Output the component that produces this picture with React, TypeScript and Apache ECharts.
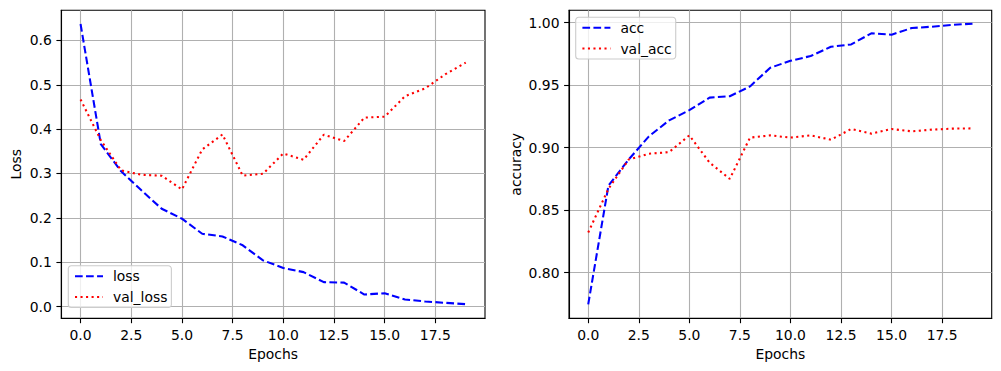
import React, { useEffect, useRef } from "react";
import * as echarts from "echarts";

const epochs = [0, 1, 2, 3, 4, 5, 6, 7, 8, 9, 10, 11, 12, 13, 14, 15, 16, 17, 18, 19];
const loss = [0.637, 0.366, 0.305, 0.262, 0.2205, 0.198, 0.164, 0.158, 0.138, 0.104, 0.087, 0.0775, 0.055, 0.0538, 0.027, 0.030, 0.0158, 0.0113, 0.0083, 0.0053];
const valLoss = [0.467, 0.375, 0.307, 0.297, 0.295, 0.264, 0.354, 0.388, 0.295, 0.2995, 0.345, 0.331, 0.3875, 0.373, 0.426, 0.428, 0.474, 0.492, 0.524, 0.550];
const acc = [0.7746, 0.8696, 0.8905, 0.909, 0.9218, 0.930, 0.940, 0.9411, 0.949, 0.9639, 0.9695, 0.9733, 0.9807, 0.9826, 0.9915, 0.9904, 0.9957, 0.9968, 0.9982, 0.9992];
const valAcc = [0.8321, 0.867, 0.8905, 0.8951, 0.8964, 0.9098, 0.888, 0.875, 0.908, 0.9098, 0.908, 0.9098, 0.9063, 0.9149, 0.9112, 0.9149, 0.913, 0.9144, 0.9152, 0.9154];
const xTicks = [0, 2.5, 5, 7.5, 10, 12.5, 15, 17.5];
const lossTicks = [0, 0.1, 0.2, 0.3, 0.4, 0.5, 0.6];
const accTicks = [0.8, 0.85, 0.9, 0.95, 1.0];

const FONT = "DejaVu Sans";
const FS = 13.9;
const GRIDC = "#b0b0b0";

function xAxisFor(gridIndex: number) {
  return {
    type: "value",
    gridIndex,
    min: -0.95,
    max: 19.95,
    name: "Epochs",
    nameLocation: "middle",
    nameGap: 27,
    nameTextStyle: { fontFamily: FONT, fontSize: FS, color: "#000" },
    axisLine: { show: true, onZero: false, lineStyle: { color: "#000", width: 1.1 } },
    axisTick: { show: true, length: 4.9, lineStyle: { color: "#000", width: 1.1 }, customValues: xTicks },
    axisLabel: {
      show: true,
      margin: 9.5,
      fontFamily: FONT,
      fontSize: FS,
      color: "#000",
      customValues: xTicks,
      formatter: (v: number) => v.toFixed(1),
    },
    splitLine: { show: true, lineStyle: { color: GRIDC, width: 1.1 } },
  };
}

function yAxisFor(gridIndex: number, min: number, max: number, ticks: number[], digits: number, name: string, nameGap: number) {
  return {
    type: "value",
    gridIndex,
    min,
    max,
    name,
    nameLocation: "middle",
    nameGap,
    nameTextStyle: { fontFamily: FONT, fontSize: FS, color: "#000" },
    axisLine: { show: true, onZero: false, lineStyle: { color: "#000", width: 1.1 } },
    axisTick: { show: true, length: 4.9, lineStyle: { color: "#000", width: 1.1 }, customValues: ticks },
    axisLabel: {
      show: true,
      margin: 9.5,
      fontFamily: FONT,
      fontSize: FS,
      color: "#000",
      customValues: ticks,
      formatter: (v: number) => v.toFixed(digits),
    },
    splitLine: { show: true, lineStyle: { color: GRIDC, width: 1.1 } },
  };
}

function lineSeries(name: string, data: number[], idx: number, color: string, dashed: boolean) {
  return {
    type: "line",
    name,
    xAxisIndex: idx,
    yAxisIndex: idx,
    data: epochs.map((e, i) => [e, data[i]]),
    symbol: "none",
    showSymbol: false,
    lineStyle: { color, width: 2.08, type: dashed ? [7.7, 3.33] : [2.08, 3.44] },
    itemStyle: { color },
    z: 3,
  };
}

function legendFor(names: string[], left: number, top: number) {
  return {
    data: names,
    orient: "vertical",
    left,
    top,
    itemWidth: 28,
    itemHeight: 14,
    itemGap: 6.7,
    padding: [3.5, 4, 3.5, 5.7],
    backgroundColor: "rgba(255,255,255,0.8)",
    borderColor: "#cccccc",
    borderWidth: 1.1,
    borderRadius: 3,
    itemStyle: { opacity: 0 },
    textStyle: { fontFamily: FONT, fontSize: FS, color: "#000", padding: [0, 0, 0, 5] },
    selectedMode: false,
    z: 10,
  };
}

export default function App() {
  const ref = useRef<HTMLDivElement>(null);
  useEffect(() => {
    document.body.style.margin = "0";
    if (!ref.current) return;
    const chart = echarts.init(ref.current, null, { renderer: "svg" });
    chart.setOption({
      animation: false,
      backgroundColor: "#fff",
      textStyle: { fontFamily: FONT },
      grid: [
        { left: 61.3, top: 10.3, width: 423.7, height: 308, show: true, borderColor: "#000", borderWidth: 1.1, containLabel: false },
        { left: 569, top: 10.3, width: 422.7, height: 308, show: true, borderColor: "#000", borderWidth: 1.1, containLabel: false },
      ],
      xAxis: [xAxisFor(0), xAxisFor(1)],
      yAxis: [
        yAxisFor(0, -0.0266, 0.668, lossTicks, 1, "Loss", 38),
        yAxisFor(1, 0.7634, 1.0099, accTicks, 2, "accuracy", 46),
      ],
      legend: [legendFor(["loss", "val_loss"], 68.3, 265.7), legendFor(["acc", "val_acc"], 575.7, 17.3)],
      series: [
        lineSeries("loss", loss, 0, "#0000ff", true),
        lineSeries("val_loss", valLoss, 0, "#ff0000", false),
        lineSeries("acc", acc, 1, "#0000ff", true),
        lineSeries("val_acc", valAcc, 1, "#ff0000", false),
      ],
    });
    return () => chart.dispose();
  }, []);
  return <div ref={ref} style={{ width: 1001, height: 371 }} />;
}
